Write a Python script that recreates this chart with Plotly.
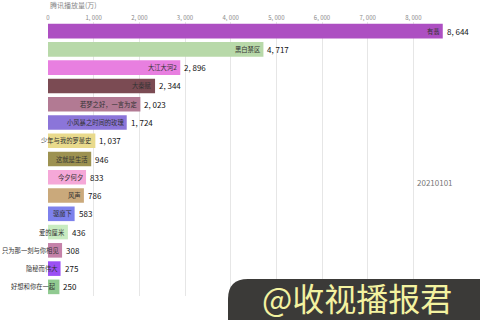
import plotly.graph_objects as go

names = ["有翡", "黑白禁区", "大江大河2", "大秦赋", "若梦之好，一言为定", "小风暴之时间的玫瑰",
         "少年与我的罗曼史", "这就是生活", "今夕何夕", "风声", "驱魔下", "爱的厘米",
         "只为那一刻与你相见", "隐秘而伟大", "好想和你在一起"]
values = [8644, 4717, 2896, 2344, 2023, 1724, 1037, 946, 833, 786, 583, 436, 308, 275, 250]
colors = ["#ad4fc2", "#b8d9a9", "#e87fe0", "#7b4b53", "#b27a93", "#8b75d9",
          "#e9da8c", "#9d9251", "#f5a8d8", "#caa97b", "#7d81ec", "#c8ecc1",
          "#c582a9", "#9b50f4", "#90ca91"]
tick_vals = [0, 1000, 2000, 3000, 4000, 5000, 6000, 7000, 8000]
tick_text = ["0", "1, 000", "2, 000", "3, 000", "4, 000", "5, 000", "6, 000", "7, 000", "8, 000"]
date_label = "20210101"
axis_title = "腾讯播放量(万)"
watermark = "@收视播报君"

def fmt(v):
    return f"{v:,}".replace(",", ", ")

font = "Noto Sans CJK SC, sans-serif"

fig = go.Figure(go.Bar(
    x=values, y=names, orientation="h",
    marker=dict(color=colors, line=dict(width=0)),
    width=0.8,
))

# paper coordinate helpers (plot area spans 48..475 px horizontally, 22..296 px vertically)
def px(xp):
    return (xp - 48) / (475 - 48)
def py(yp):
    return (296 - yp) / 274

annotations = []
for n, v in zip(names, values):
    annotations.append(dict(x=v, y=n, xref="x", yref="y", text=n, showarrow=False,
                            xanchor="right", yanchor="middle", xshift=-1,
                            font=dict(family=font, size=6.3, color="#333333")))
    annotations.append(dict(x=v, y=n, xref="x", yref="y", text=fmt(v), showarrow=False,
                            xanchor="left", yanchor="middle", xshift=2,
                            font=dict(family=font, size=8, color="#111111")))

annotations.append(dict(x=1.0, y=0.415, xref="paper", yref="paper", text=date_label,
                        showarrow=False, xanchor="right", xshift=-20,
                        font=dict(family=font, size=8, color="#777777")))
annotations.append(dict(x=0, y=1, xref="paper", yref="paper", text=axis_title,
                        showarrow=False, xanchor="left", yanchor="bottom", yshift=10,
                        font=dict(family=font, size=7, color="#888888")))
annotations.append(dict(x=px(357), y=py(297), xref="paper", yref="paper", text=watermark,
                        showarrow=False, xanchor="center", yanchor="middle",
                        font=dict(family=font, size=32, color="#f3f2a0")))

x0, x1, y0, y1, r = 228, 484, 279, 324, 20
path = (f"M {px(x0)},{py(y1)} L {px(x0)},{py(y0 + r)} "
        f"Q {px(x0)},{py(y0)} {px(x0 + r)},{py(y0)} "
        f"L {px(x1)},{py(y0)} L {px(x1)},{py(y1)} Z")

fig.update_layout(
    width=480, height=320,
    margin=dict(l=48, r=5, t=22, b=24),
    paper_bgcolor="white", plot_bgcolor="white",
    showlegend=False,
    bargap=0.2,
    xaxis=dict(side="top", range=[0, 9350], tickvals=tick_vals, ticktext=tick_text,
               showgrid=True, gridcolor="#e6e6e6", gridwidth=1, zeroline=False,
               showline=False, ticks="", tickfont=dict(family=font, size=6, color="#888888")),
    yaxis=dict(autorange="reversed", showticklabels=False, showgrid=False, ticks="",
               showline=False, zeroline=False),
    annotations=annotations,
    shapes=[dict(type="path", path=path, xref="paper", yref="paper",
                 fillcolor="#3b3a38", line=dict(width=0), layer="above")],
)
fig.write_html("out.html")
